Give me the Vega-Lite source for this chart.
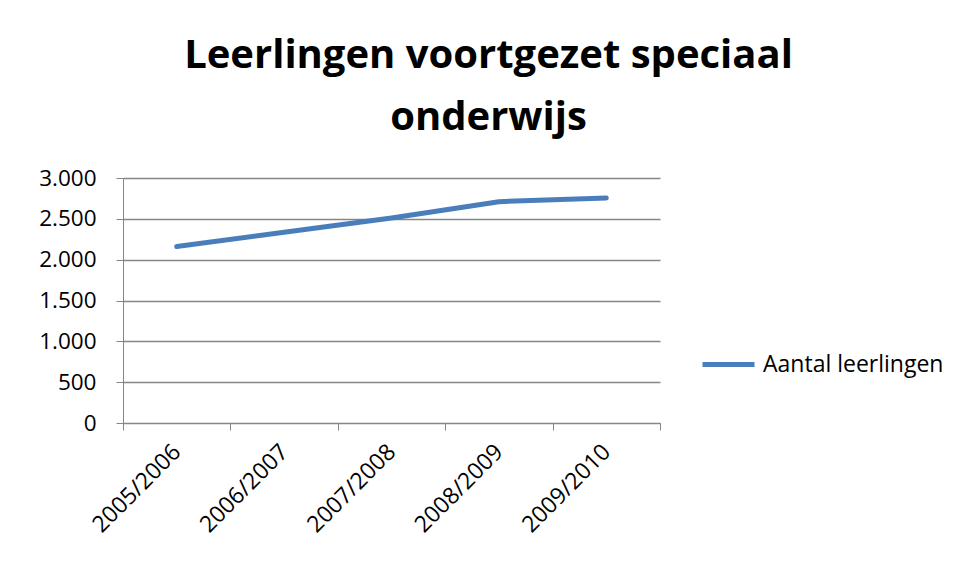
{
  "$schema": "https://vega.github.io/schema/vega-lite/v6.json",
  "autosize": "none",
  "width": 537,
  "height": 245,
  "padding": {"left": 123, "top": 178, "right": 296, "bottom": 155},
  "background": "white",
  "config": {
    "locale": {"number": {"decimal": ",", "thousands": ".", "grouping": [3], "currency": ["€", ""]}},
    "font": "Open Sans",
    "view": {"stroke": null}
  },
  "title": {
    "text": ["Leerlingen voortgezet speciaal", "onderwijs"],
    "font": "Open Sans",
    "fontSize": 40,
    "fontWeight": "bold",
    "color": "black",
    "anchor": "middle",
    "dx": 97,
    "lineHeight": 62,
    "offset": 29
  },
  "data": {
    "values": [
      {"jaar": "2005/2006", "serie": "Aantal leerlingen", "aantal": 2160},
      {"jaar": "2006/2007", "serie": "Aantal leerlingen", "aantal": 2335},
      {"jaar": "2007/2008", "serie": "Aantal leerlingen", "aantal": 2510},
      {"jaar": "2008/2009", "serie": "Aantal leerlingen", "aantal": 2710},
      {"jaar": "2009/2010", "serie": "Aantal leerlingen", "aantal": 2755}
    ]
  },
  "mark": {"type": "line", "strokeWidth": 5, "strokeCap": "round", "strokeJoin": "round"},
  "encoding": {
    "x": {
      "field": "jaar",
      "type": "ordinal",
      "scale": {"type": "band", "paddingInner": 0, "paddingOuter": 0},
      "axis": {
        "title": null,
        "tickBand": "extent",
        "labelAngle": -45,
        "labelAlign": "right",
        "labelBaseline": "middle",
        "labelPadding": 18,
        "labelFontSize": 23,
        "labelColor": "black",
        "domainColor": "#868686",
        "tickColor": "#868686",
        "tickSize": 7,
        "grid": false
      }
    },
    "y": {
      "field": "aantal",
      "type": "quantitative",
      "scale": {"domain": [0, 3000]},
      "axis": {
        "title": null,
        "values": [0, 500, 1000, 1500, 2000, 2500, 3000],
        "format": ",d",
        "labelFontSize": 22.5,
        "labelColor": "black",
        "labelPadding": 20,
        "domainColor": "#868686",
        "tickColor": "#868686",
        "tickSize": 7,
        "gridColor": "#868686",
        "gridWidth": 1.5
      }
    },
    "color": {
      "field": "serie",
      "type": "nominal",
      "scale": {"range": ["#4a7ebb"]},
      "legend": {
        "title": null,
        "orient": "none",
        "legendX": 577,
        "legendY": 158,
        "symbolType": "stroke",
        "symbolSize": 2704,
        "symbolStrokeWidth": 5,
        "labelFontSize": 23,
        "labelColor": "black",
        "labelOffset": 6,
        "labelLimit": 400
      }
    }
  }
}
